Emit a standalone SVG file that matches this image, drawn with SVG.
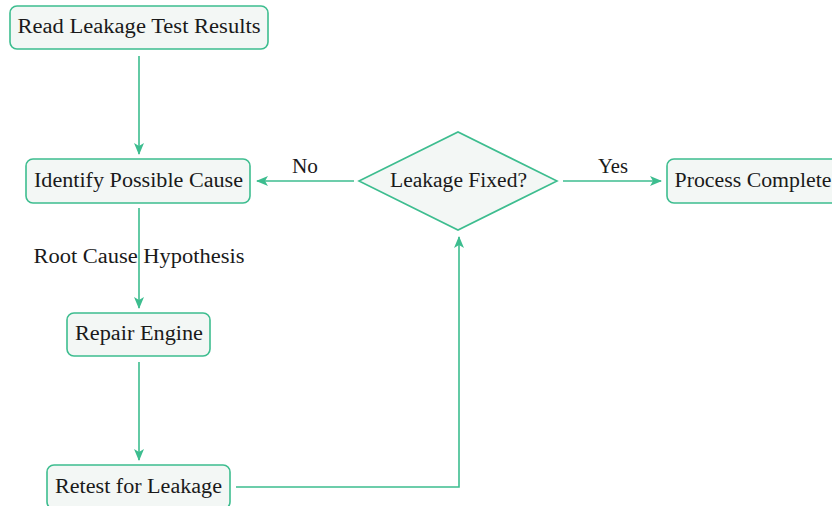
<svg xmlns="http://www.w3.org/2000/svg" width="832" height="506" viewBox="0 0 832 506">
  <style>
    .box { fill: #f3f7f5; stroke: #3dbd8f; stroke-width: 1.6; }
    .lbl { font-family: "Liberation Serif", "DejaVu Serif", serif; font-size: 20px; fill: #1a1a1a; text-anchor: middle; }
    .edge { fill: none; stroke: #3dbd8f; stroke-width: 1.6; }
  </style>
  <defs>
    <marker id="arrow" viewBox="0 0 12 10" refX="11" refY="5" markerWidth="12" markerHeight="10" markerUnits="userSpaceOnUse" orient="auto">
      <path d="M0,0 L12,5 L0,10 L3,5 Z" fill="#3dbd8f"/>
    </marker>
  </defs>

  <rect width="832" height="506" fill="#ffffff"/>

  <!-- connectors -->
  <g id="connectors">
    <path class="edge" d="M139,56 V154" marker-end="url(#arrow)"/>
    <path class="edge" d="M139,208 V308" marker-end="url(#arrow)"/>
    <path class="edge" d="M139,362 V460" marker-end="url(#arrow)"/>
    <path class="edge" d="M236,487 H459 V237" marker-end="url(#arrow)"/>
    <path class="edge" d="M354,181 H257" marker-end="url(#arrow)"/>
    <path class="edge" d="M563,181 H661" marker-end="url(#arrow)"/>
    <text class="lbl" x="305" y="173" textLength="26" lengthAdjust="spacingAndGlyphs">No</text>
    <text class="lbl" x="613" y="173" textLength="30" lengthAdjust="spacingAndGlyphs">Yes</text>
    <text class="lbl" x="139" y="263" textLength="211" lengthAdjust="spacingAndGlyphs">Root Cause Hypothesis</text>
  </g>

  <g id="read">
    <rect class="box" x="10" y="6" width="258" height="43" rx="7"/>
    <text class="lbl" x="139" y="33" textLength="243" lengthAdjust="spacingAndGlyphs">Read Leakage Test Results</text>
  </g>

  <g id="identify">
    <rect class="box" x="26" y="159" width="224" height="44" rx="7"/>
    <text class="lbl" x="138.5" y="187" textLength="209" lengthAdjust="spacingAndGlyphs">Identify Possible Cause</text>
  </g>

  <g id="decision">
    <polygon class="box" points="359,181 458,132 557,181 458,230"/>
    <text class="lbl" x="458.5" y="187" textLength="137" lengthAdjust="spacingAndGlyphs">Leakage Fixed?</text>
  </g>

  <g id="complete">
    <rect class="box" x="667" y="159" width="172" height="44" rx="7"/>
    <text class="lbl" x="753" y="187" textLength="157" lengthAdjust="spacingAndGlyphs">Process Complete</text>
  </g>

  <g id="repair">
    <rect class="box" x="67" y="313" width="143" height="43" rx="7"/>
    <text class="lbl" x="139" y="340" textLength="128" lengthAdjust="spacingAndGlyphs">Repair Engine</text>
  </g>

  <g id="retest">
    <rect class="box" x="47" y="465" width="183" height="44" rx="7"/>
    <text class="lbl" x="138.5" y="493" textLength="167" lengthAdjust="spacingAndGlyphs">Retest for Leakage</text>
  </g>
</svg>
